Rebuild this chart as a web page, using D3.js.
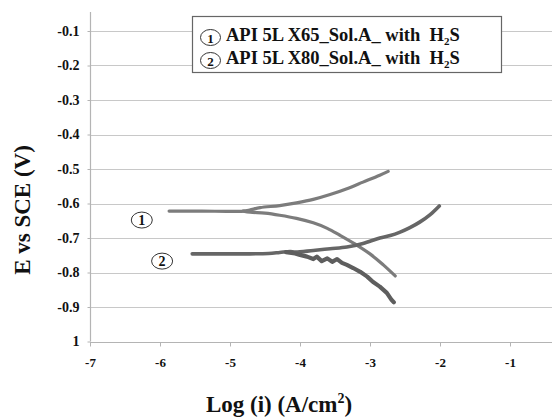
<!DOCTYPE html>
<html><head><meta charset="utf-8">
<script src="https://cdn.jsdelivr.net/npm/d3@7/dist/d3.min.js"></script>
<style>
html,body{margin:0;padding:0;background:#fff;overflow:hidden}
svg{display:block}
</style></head>
<body><svg id="c" width="552" height="417"></svg>
<script>
// ---- data (log i in A/cm2, E in V vs SCE) ----
const xTicks = [-7, -6, -5, -4, -3, -2, -1];
const xTickLabels = ["-7", "-6", "-5", "-4", "-3", "-2", "-1"];
const yTicks = [-0.1, -0.2, -0.3, -0.4, -0.5, -0.6, -0.7, -0.8, -0.9, -1.0];
const yTickLabels = ["-0.1", "-0.2", "-0.3", "-0.4", "-0.5", "-0.6", "-0.7", "-0.8", "-0.9", "1"];
const seriesNames = ["API 5L X65_Sol.A_ with  H", "API 5L X80_Sol.A_ with  H"];

// X65: flat part then anodic branch (up) and cathodic branch (down)
const x65Anodic = [[-5.87,-0.622],[-5.4,-0.622],[-5.0,-0.623],[-4.81,-0.622],[-4.72,-0.619],[-4.57,-0.612],[-4.29,-0.606],[-4.05,-0.598],[-3.81,-0.588],[-3.57,-0.574],[-3.33,-0.557],[-3.10,-0.538],[-2.86,-0.518],[-2.74,-0.507]];
const x65Cathodic = [[-4.81,-0.622],[-4.71,-0.625],[-4.50,-0.628],[-4.29,-0.634],[-4.05,-0.643],[-3.81,-0.656],[-3.61,-0.672],[-3.43,-0.692],[-3.21,-0.718],[-3.00,-0.746],[-2.81,-0.778],[-2.64,-0.810]];
// X80
const x80Anodic = [[-5.54,-0.746],[-5.2,-0.746],[-4.8,-0.746],[-4.45,-0.745],[-4.29,-0.742],[-4.14,-0.739],[-4.07,-0.741],[-3.81,-0.736],[-3.57,-0.731],[-3.33,-0.726],[-3.10,-0.716],[-2.86,-0.700],[-2.71,-0.693],[-2.57,-0.683],[-2.43,-0.670],[-2.29,-0.654],[-2.14,-0.632],[-2.01,-0.607]];
const x80Cathodic = [[-4.20,-0.741],[-4.07,-0.745],[-4.00,-0.749],[-3.90,-0.754],[-3.81,-0.761],[-3.76,-0.754],[-3.69,-0.767],[-3.61,-0.759],[-3.54,-0.769],[-3.47,-0.761],[-3.40,-0.772],[-3.33,-0.778],[-3.24,-0.787],[-3.14,-0.798],[-3.04,-0.812],[-2.96,-0.827],[-2.86,-0.841],[-2.76,-0.859],[-2.69,-0.880],[-2.66,-0.886]];

const annotations = [{label:"1", logi:-6.26, e:-0.648}, {label:"2", logi:-5.97, e:-0.767}];

// ---- drawing ----
const FONT = '"Liberation Serif", "Times New Roman", serif';
const svg = d3.select("#c");
const x = d3.scaleLinear().domain([-7, 0]).range([90, 580]);
const y = d3.scaleLinear().domain([-1, -0.1]).range([341.5, 31]);
const right = 552, topY = 12;

// gridlines
svg.append("g").selectAll("line").data(yTicks.slice(0, -1)).join("line")
  .attr("x1", x(-7)).attr("x2", right)
  .attr("y1", d => Math.round(y(d)) + 0.5).attr("y2", d => Math.round(y(d)) + 0.5)
  .attr("stroke", "#c8c8c8").attr("stroke-width", 1.2);

// x axis
const xAxis = d3.axisBottom(x).tickValues(xTicks).tickFormat((d, i) => xTickLabels[i]).tickSize(4).tickPadding(11);
const gx = svg.append("g").attr("transform", `translate(0,${Math.round(y(-1)) + 0.5})`).call(xAxis);
gx.select(".domain").attr("d", `M${x(-7)},0H${right}`).attr("stroke", "#b4b4b4").attr("stroke-width", 1.2);
gx.selectAll(".tick line").attr("stroke", "#b4b4b4");
gx.selectAll("text").style("font-family", FONT).attr("font-weight", "bold").attr("font-size", 13).attr("fill", "#111");

// y axis
const yAxis = d3.axisLeft(y).tickValues(yTicks).tickFormat((d, i) => yTickLabels[i]).tickSize(3).tickPadding(8);
const gy = svg.append("g").attr("transform", `translate(${x(-7) + 0.5},0)`).call(yAxis);
gy.select(".domain").attr("d", `M0,${topY}V${y(-1)}`).attr("stroke", "#b4b4b4").attr("stroke-width", 1.2);
gy.selectAll(".tick line").attr("stroke", "#b4b4b4");
gy.selectAll("text").style("font-family", FONT).attr("font-weight", "bold").attr("font-size", 14).attr("fill", "#111");

// curves
const smooth = d3.line().x(d => x(d[0])).y(d => y(d[1])).curve(d3.curveCatmullRom.alpha(0.5));
const jagged = d3.line().x(d => x(d[0])).y(d => y(d[1]));
const curves = [
  {d: x65Anodic, c: "#7c7c7c", w: 3.2, l: smooth},
  {d: x65Cathodic, c: "#7c7c7c", w: 3.2, l: smooth},
  {d: x80Anodic, c: "#666666", w: 3.6, l: smooth},
  {d: x80Cathodic, c: "#5e5e5e", w: 4.2, l: jagged}
];
svg.append("g").selectAll("path").data(curves).join("path")
  .attr("d", c => c.l(c.d)).attr("fill", "none")
  .attr("stroke", c => c.c).attr("stroke-width", c => c.w)
  .attr("stroke-linecap", "round").attr("stroke-linejoin", "round");

// circled annotations in plot
const ann = svg.append("g").selectAll("g").data(annotations).join("g")
  .attr("transform", d => `translate(${x(d.logi)},${y(d.e)})`);
ann.append("ellipse").attr("rx", 10.5).attr("ry", 8).attr("fill", "#fff").attr("stroke", "#333").attr("stroke-width", 1);
ann.append("text").text(d => d.label).attr("text-anchor", "middle").attr("dy", 5)
  .style("font-family", FONT).attr("font-size", 14).attr("font-weight", "bold").attr("fill", "#111");

// legend
const lg = svg.append("g");
lg.append("rect").attr("x", 192.5).attr("y", 16.5).attr("width", 309).attr("height", 56)
  .attr("fill", "#fff").attr("stroke", "#666").attr("stroke-width", 1.2);
seriesNames.forEach((name, i) => {
  const cy = 37.5 + i * 23;
  lg.append("ellipse").attr("cx", 210.5).attr("cy", cy).attr("rx", 10).attr("ry", 8)
    .attr("fill", "none").attr("stroke", "#333").attr("stroke-width", 1);
  lg.append("text").attr("x", 210.5).attr("y", cy + 5).attr("text-anchor", "middle")
    .style("font-family", FONT).attr("font-size", 13).attr("font-weight", "bold").attr("fill", "#111").text(String(i + 1));
  const t = lg.append("text").attr("x", 226).attr("y", cy + 3.5).attr("font-size", 18.5)
    .style("font-family", FONT).attr("font-weight", "bold").attr("fill", "#111").style("white-space", "pre");
  t.append("tspan").text(name);
  t.append("tspan").attr("font-size", 11).attr("dy", 4).text("2");
  t.append("tspan").attr("dy", -4).text("S");
});

// axis titles
svg.append("text").attr("transform", "translate(30,210) rotate(-90)").attr("text-anchor", "middle")
  .style("font-family", FONT).attr("font-size", 23).attr("font-weight", "bold").attr("fill", "#111").text("E vs SCE (V)");
const xt = svg.append("text").attr("x", 279).attr("y", 412).attr("text-anchor", "middle")
  .style("font-family", FONT).attr("font-size", 23).attr("font-weight", "bold").attr("fill", "#111");
xt.append("tspan").text("Log (i) (A/cm");
xt.append("tspan").attr("font-size", 14).attr("dy", -9).text("2");
xt.append("tspan").attr("dy", 9).text(")");
</script></body></html>
